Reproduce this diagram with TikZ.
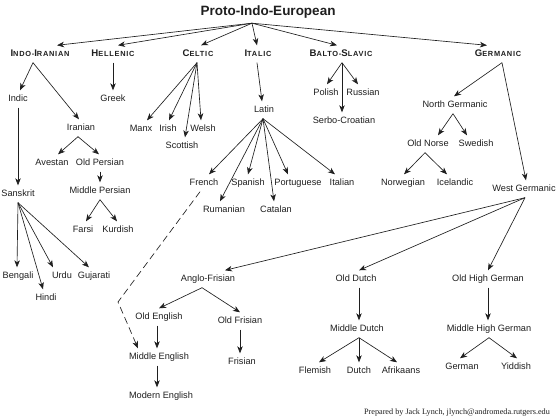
\documentclass[tikz,border=0pt]{standalone}
\usepackage{fontspec}
\setmainfont{Liberation Sans}
\newfontfamily\scf[LetterSpace=10]{Liberation Sans}
\newfontfamily\footf{Liberation Serif}
\usetikzlibrary{arrows.meta}
\newcommand\BC[1]{{\fontsize{9.6}{10}\selectfont #1}}
\definecolor{ink}{gray}{0.12}
\begin{document}
\begin{tikzpicture}[x=1pt,y=-1pt,
  lang/.style={font=\fontsize{9.2}{10}\selectfont, text=ink, text height=7pt, text depth=2pt, inner xsep=1pt, inner ysep=4pt},
  fam/.style={font=\scf\bfseries\fontsize{7.4}{9}\selectfont, text=ink, text height=7pt, text depth=2pt, inner xsep=1pt, inner ysep=4pt},
  arr/.style={-{Stealth[length=7pt,width=5.5pt,inset=2pt]}, line width=0.65pt, draw=ink},
  dsh/.style={arr, dash pattern=on 7pt off 4pt}]
\useasboundingbox (0,0) rectangle (560,420);
\fill[white] (0,0) rectangle (560,420);
% title
\node[font=\bfseries\fontsize{13.5}{15}\selectfont, text=ink, text height=10pt, text depth=3pt, inner ysep=4.5pt] (pie) at (268,12) {Proto-Indo-European};
% families
\node[fam] (ii) at (40,54) {\BC{I}NDO-\BC{I}RANIAN};
\node[fam] (he) at (113,54) {\BC{H}ELLENIC};
\node[fam] (ce) at (198,54) {\BC{C}ELTIC};
\node[fam] (it) at (258,54) {\BC{I}TALIC};
\node[fam] (bs) at (341,54) {\BC{B}ALTO-\BC{S}LAVIC};
\node[fam] (ge) at (498,54) {\BC{G}ERMANIC};
% Indo-Iranian
\node[lang] (indic) at (18,99) {Indic};
\node[lang] (iran) at (81,128) {Iranian};
\node[lang] (sans) at (18,194) {Sanskrit};
\node[lang] (aves) at (52,163) {Avestan};
\node[lang] (oper) at (100,163) {Old Persian};
\node[lang] (mper) at (100,191) {Middle Persian};
\node[lang] (farsi) at (83,230) {Farsi};
\node[lang] (kurd) at (118,230) {Kurdish};
\node[lang] (beng) at (18,276) {Bengali};
\node[lang] (hindi) at (46,298) {Hindi};
\node[lang] (urdu) at (62,276) {Urdu};
\node[lang] (guj) at (94,276) {Gujarati};
% Hellenic
\node[lang] (greek) at (113,99) {Greek};
% Celtic
\node[lang] (manx) at (141,129) {Manx};
\node[lang] (irish) at (168,129) {Irish};
\node[lang] (welsh) at (203,129) {Welsh};
\node[lang] (scot) at (182,146) {Scottish};
% Italic
\node[lang] (latin) at (264,110) {Latin};
\node[lang] (french) at (204,183) {French};
\node[lang] (span) at (248,183) {Spanish};
\node[lang] (port) at (298,183) {Portuguese};
\node[lang] (ital) at (342,183) {Italian};
\node[lang] (rum) at (224,210) {Rumanian};
\node[lang] (cat) at (276,210) {Catalan};
% Balto-Slavic
\node[lang] (pol) at (326,93) {Polish};
\node[lang] (rus) at (363,93) {Russian};
\node[lang] (serb) at (344,121) {Serbo-Croatian};
% Germanic
\node[lang] (ng) at (455,105) {North Germanic};
\node[lang] (wg) at (524,189) {West Germanic};
\node[lang] (on) at (428,144) {Old Norse};
\node[lang] (swe) at (476,144) {Swedish};
\node[lang] (nor) at (403,183) {Norwegian};
\node[lang] (ice) at (455,183) {Icelandic};
\node[lang] (af) at (208,279) {Anglo-Frisian};
\node[lang] (od) at (356,279) {Old Dutch};
\node[lang] (ohg) at (488,279) {Old High German};
\node[lang] (oe) at (159,317) {Old English};
\node[lang] (ofr) at (240,321) {Old Frisian};
\node[lang] (me) at (159,357) {Middle English};
\node[lang] (fris) at (242,362) {Frisian};
\node[lang] (mode) at (161,396) {Modern English};
\node[lang] (md) at (357,329) {Middle Dutch};
\node[lang] (flem) at (315,371) {Flemish};
\node[lang] (dutch) at (359,371) {Dutch};
\node[lang] (afr) at (401,371) {Afrikaans};
\node[lang] (mhg) at (489,329) {Middle High German};
\node[lang] (germ) at (462,367) {German};
\node[lang] (yid) at (516,367) {Yiddish};
% footer
\node[font=\footf\fontsize{8.2}{9}\selectfont, text=ink, inner sep=0pt] (foot) at (457,413) {Prepared by Jack Lynch, jlynch@andromeda.rutgers.edu};

% PIE arrows
\coordinate (pieo) at ([xshift=-16pt]pie.south);
\draw[arr] (pieo) -- ([xshift=17pt]ii.north);
\draw[arr] (pieo) -- ([xshift=5pt]he.north);
\draw[arr] (pieo) -- ([xshift=3pt]ce.north);
\draw[arr] (pieo) -- ([xshift=-1pt]it.north);
\draw[arr] (pieo) -- ([xshift=-4pt]bs.north);
\draw[arr] (pieo) -- ([xshift=-11pt]ge.north);
% Indo-Iranian
\draw[arr] ([xshift=-7pt]ii.south) -- ([xshift=2pt]indic.north);
\draw[arr] ([xshift=-7pt]ii.south) -- ([xshift=-2pt]iran.north);
\draw[arr] (indic.south) -- (indic.south |- sans.north);
\draw[arr] ([xshift=-3pt]iran.south) -- ([xshift=6pt]aves.north);
\draw[arr] ([xshift=-3pt]iran.south) -- ([xshift=-1pt]oper.north);
\draw[arr] (oper.south) -- (mper.north);
\draw[arr] (mper.south) -- ([xshift=3pt]farsi.north);
\draw[arr] (mper.south) -- ([xshift=-1pt]kurd.north);
\draw[arr] (sans.south) -- ([xshift=-1pt]beng.north);
\draw[arr] (sans.south) -- ([xshift=-3pt]hindi.north);
\draw[arr] (sans.south) -- ([xshift=-9pt]urdu.north);
\draw[arr] (sans.south) -- ([xshift=-5pt]guj.north);
% Hellenic
\draw[arr] (he.south) -- (greek.north);
% Celtic
\draw[arr] ([xshift=-1pt]ce.south) -- ([xshift=6pt]manx.north);
\draw[arr] ([xshift=-1pt]ce.south) -- ([xshift=1pt]irish.north);
\draw[arr] ([xshift=-1pt]ce.south) -- ([xshift=-2pt]welsh.north);
\draw[arr] ([xshift=-1pt]ce.south) -- ([xshift=3pt]scot.north);
% Italic
\draw[arr] ([xshift=-1pt]it.south) -- ([xshift=-2pt]latin.north);
\coordinate (lato) at ([xshift=-1pt]latin.south);
\draw[arr] (lato) -- ([xshift=5pt]french.north);
\draw[arr] (lato) -- (span.north);
\draw[arr] (lato) -- ([xshift=-10pt]port.north);
\draw[arr] (lato) -- ([xshift=-7pt]ital.north);
\draw[arr] (lato) -- ([xshift=-4pt]rum.north);
\draw[arr] (lato) -- ([xshift=-2pt]cat.north);
% Balto-Slavic
\draw[arr] ([xshift=1pt]bs.south) -- ([xshift=1pt]pol.north);
\draw[arr] ([xshift=1pt]bs.south) -- ([xshift=-5pt]rus.north);
\draw[arr] ([xshift=1pt]bs.south) -- ([xshift=-2pt]serb.north);
% Germanic
\draw[arr] ([xshift=4pt]ge.south) -- ([xshift=-1pt]ng.north);
\draw[arr] ([xshift=4pt]ge.south) -- ([xshift=2pt]wg.north);
\draw[arr] ([xshift=-2pt]ng.south) -- ([xshift=10pt]on.north);
\draw[arr] ([xshift=-2pt]ng.south) -- ([xshift=-9pt]swe.north);
\draw[arr] ([xshift=-3pt]on.south) -- ([xshift=1pt]nor.north);
\draw[arr] ([xshift=-3pt]on.south) -- ([xshift=-8pt]ice.north);
\draw[arr] ([xshift=1pt]wg.south) -- ([xshift=17pt]af.north);
\draw[arr] ([xshift=1pt]wg.south) -- ([xshift=3pt]od.north);
\draw[arr] ([xshift=1pt]wg.south) -- (ohg.north);
\draw[arr] ([xshift=-6pt]af.south) -- (oe.north);
\draw[arr] ([xshift=-6pt]af.south) -- (ofr.north);
\draw[arr] ([xshift=-2pt]oe.south) -- ([xshift=-2pt]me.north);
\draw[arr] (ofr.south) -- (ofr.south |- fris.north);
\draw[arr] ([xshift=-2pt]me.south) -- ([xshift=-2pt]me.south |- mode.north);
\draw[arr] ([xshift=3pt]od.south) -- ([xshift=3pt]od.south |- md.north);
\draw[arr] ([xshift=2pt]md.south) -- ([xshift=4pt]flem.north);
\draw[arr] ([xshift=2pt]md.south) -- (dutch.north);
\draw[arr] ([xshift=2pt]md.south) -- ([xshift=-4pt]afr.north);
\draw[arr] (ohg.south) -- (ohg.south |- mhg.north);
\draw[arr] (mhg.south) -- ([xshift=-2pt]germ.north);
\draw[arr] (mhg.south) -- ([xshift=1pt]yid.north);
% French to Middle English (dashed)
\coordinate (bend) at (118,302);
\draw[dsh] ([xshift=-4pt]french.south) -- (bend) -- ([xshift=-21pt]me.north);
\end{tikzpicture}
\end{document}
